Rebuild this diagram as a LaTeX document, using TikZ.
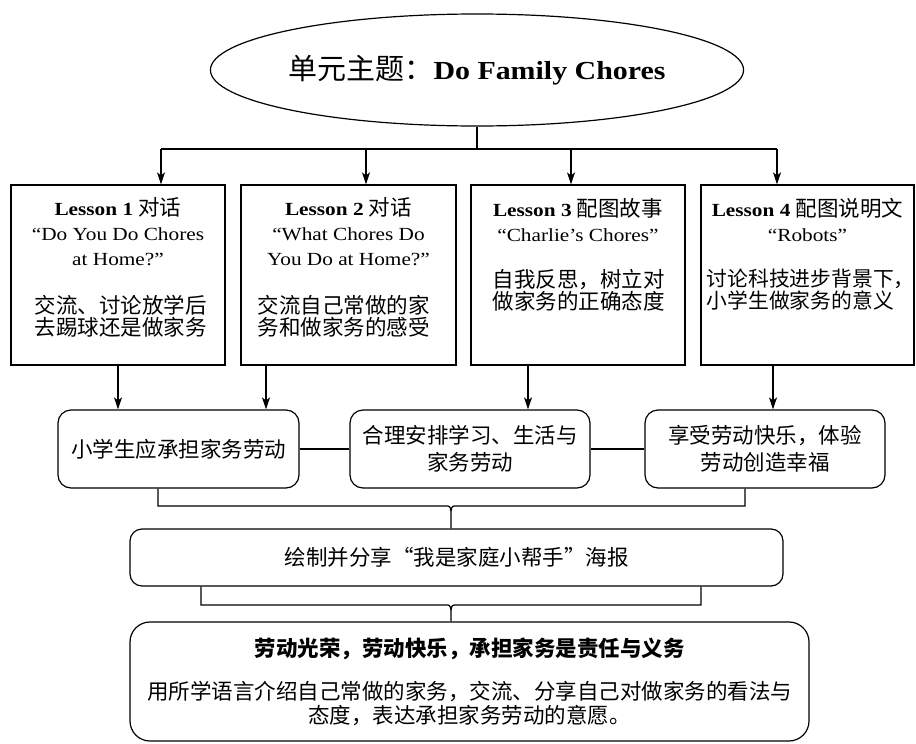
\documentclass[tikz,border=0pt]{standalone}
\usepackage{fontspec}
\setmainfont{Liberation Serif}[FakeStretch=1.15]
\newfontfamily\cjk{Noto Sans CJK SC}
\usetikzlibrary{shapes.geometric,arrows.meta,positioning}
\newcommand\zh[1]{{\cjk\fontsize{21.5}{22}\selectfont #1}}

\begin{document}
\begin{tikzpicture}[x=1pt,y=-1pt,line width=1.2pt,
  lesson/.style={draw,minimum width=214pt,minimum height=180pt,inner sep=0pt},
  headtext/.style={align=center,inner sep=0pt,font=\fontsize{18.5}{25}\selectfont},
  notetext/.style={align=left,inner sep=0pt,font=\cjk\fontsize{21.5}{22}\selectfont},
  goal/.style={draw,rounded corners=13pt,minimum width=241pt,minimum height=78pt,
    inner sep=0pt,align=center,font=\cjk\fontsize{21.5}{27}\selectfont},
  arr/.style={-{Stealth[length=12pt,width=8pt,inset=3pt]}}]
  \useasboundingbox (0,0) rectangle (916,744);

  \node[draw,ellipse,minimum width=528pt,minimum height=112pt,inner sep=0pt] (theme) at (477,70)
    {{\cjk\fontsize{29}{30}\selectfont 单元主题：}{\fontsize{26}{30}\selectfont\bfseries Do Family Chores}};

  % lessons
  \node[lesson] (L1) at (118,275) {};
  \node[lesson,minimum width=215pt] (L2) at (348.5,275) {};
  \node[lesson] (L3) at (578,275) {};
  \node[lesson,minimum width=213pt] (L4) at (807.5,275) {};
  \node[headtext] (L1h) at (118,232) {\textbf{Lesson 1} \zh{对话}\\“Do You Do Chores\\at Home?”};
  \node[headtext] (L2h) at (348.5,232) {\textbf{Lesson 2} \zh{对话}\\“What Chores Do\\You Do at Home?”};
  \node[headtext] (L3h) at (578,220) {\textbf{Lesson 3} \zh{配图故事}\\“Charlie’s Chores”};
  \node[headtext] (L4h) at (807.5,220) {\textbf{Lesson 4} \zh{配图说明文}\\“Robots”};
  \node[notetext,anchor=west] (L1n) at (34,316) {交流、讨论放学后\\去踢球还是做家务};
  \node[notetext,anchor=west] (L2n) at (257,316) {交流自己常做的家\\务和做家务的感受};
  \node[notetext,anchor=west] (L3n) at (492,290) {自我反思，树立对\\做家务的正确态度};
  \node[notetext,anchor=west,font=\cjk\fontsize{20.8}{22}\selectfont] (L4n) at (706,290)
    {讨论科技进步背景下，\\小学生做家务的意义};

  % goals
  \node[goal] (G1) at (178.5,449) {小学生应承担家务劳动};
  \node[goal,minimum width=240pt] (G2) at (470,449) {合理安排学习、生活与\\家务劳动};
  \node[goal,minimum width=240pt] (G3) at (765,449) {享受劳动快乐，体验\\劳动创造幸福};

  \node[draw,rounded corners=12pt,minimum width=653pt,minimum height=57pt,inner sep=0pt,
    font=\cjk\fontsize{21.5}{22}\selectfont] (poster) at (456.5,557.5) {绘制并分享“我是家庭小帮手”海报};
  \node[draw,rounded corners=20pt,minimum width=679pt,minimum height=119pt,inner sep=0pt,align=center,
    font=\cjk\fontsize{21.5}{24}\selectfont] (final) at (469.5,681.5)
    {\textbf{劳动光荣，劳动快乐，承担家务是责任与义务}\\[19pt]用所学语言介绍自己常做的家务，交流、分享自己对做家务的看法与\\态度，表达承担家务劳动的意愿。};

  % connectors
  \coordinate (h1) at (161,149);
  \coordinate (h2) at (366,149);
  \coordinate (h3) at (571,149);
  \coordinate (h4) at (777,149);
  \draw (theme.south) -- (theme.south |- h1);
  \draw (h1) -- (h4);
  \foreach \i in {1,...,4}
    \draw[arr] (h\i) -- (h\i |- L\i.north);

  \coordinate (d1) at (118,365);
  \coordinate (d2) at (266,365);
  \coordinate (d3) at (528,365);
  \coordinate (d4) at (773,365);
  \draw[arr] (d1) -- (d1 |- G1.north);
  \draw[arr] (d2) -- (d2 |- G1.north);
  \draw[arr] (d3) -- (d3 |- G2.north);
  \draw[arr] (d4) -- (d4 |- G3.north);
  \draw (G1) -- (G2) (G2) -- (G3);

  \coordinate (k1) at (158,506);
  \coordinate (k2) at (745,506);
  \coordinate (j1) at (451,506);
  \coordinate (j1b) at (451,511);
  \draw (k1 |- G1.south) -- (k1) -- ([xshift=-6pt]j1) .. controls ([xshift=-1pt]j1) .. (j1b) -- (j1b |- poster.north);
  \draw (k2 |- G3.south) -- (k2) -- ([xshift=6pt]j1) .. controls ([xshift=1pt]j1) .. (j1b);

  \coordinate (k3) at (201,605);
  \coordinate (k4) at (701,605);
  \coordinate (j2) at (451,605);
  \coordinate (j2b) at (451,610);
  \draw (k3 |- poster.south) -- (k3) -- ([xshift=-6pt]j2) .. controls ([xshift=-1pt]j2) .. (j2b) -- (j2b |- final.north);
  \draw (k4 |- poster.south) -- (k4) -- ([xshift=6pt]j2) .. controls ([xshift=1pt]j2) .. (j2b);
\end{tikzpicture}
\end{document}
